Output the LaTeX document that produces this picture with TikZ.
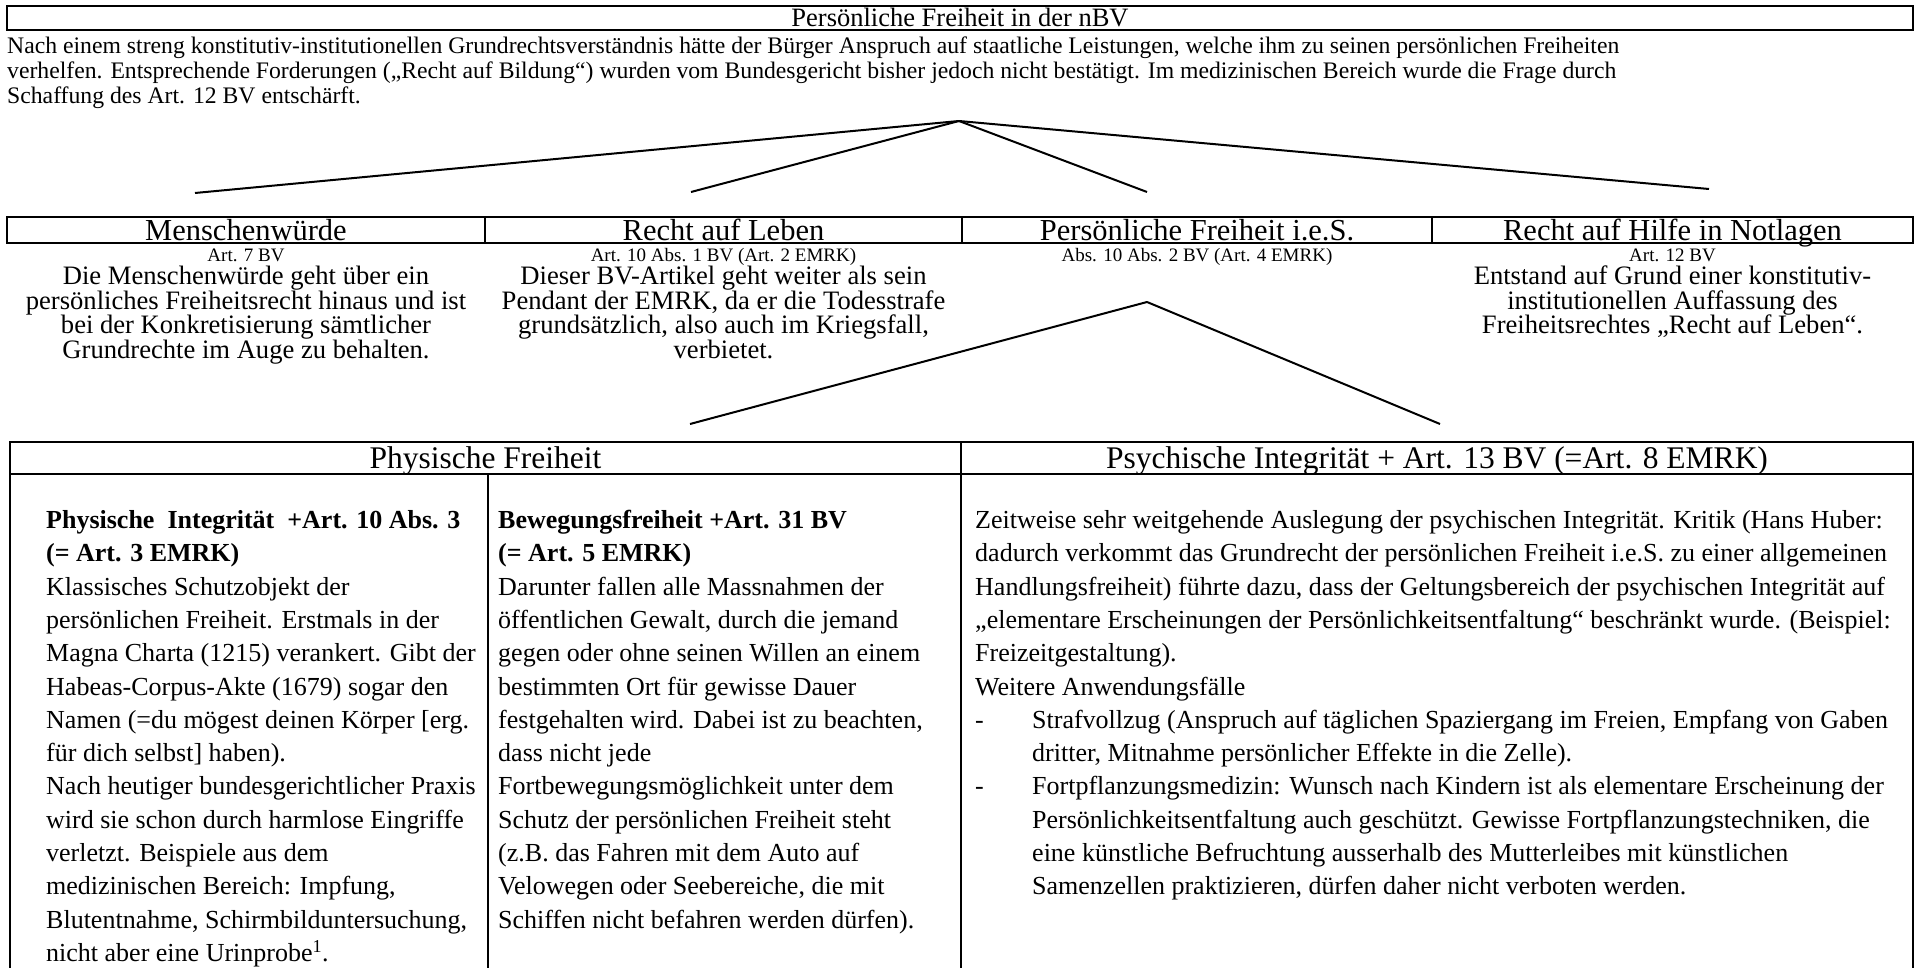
\documentclass[tikz,border=0pt]{standalone}
\usepackage{fontspec}
\setmainfont{Liberation Serif}
\newcommand\xbody{\fontsize{26}{33.3}\selectfont\lineskiplimit=-100pt}
\newcommand\xpara{\fontsize{23.7}{25}\selectfont\lineskiplimit=-100pt}
\newcommand\xrow{\fontsize{26.6}{24.4}\selectfont\lineskiplimit=-100pt}
\newcommand\xtitle{\fontsize{26.5}{30}\selectfont}
\newcommand\xhdr{\fontsize{30.5}{35}\selectfont}
\newcommand\xlow{\fontsize{31.5}{35}\selectfont}
\newcommand\xart{\fontsize{19}{22}\selectfont}
\tikzset{
  frame/.style={draw, line width=2.4pt, inner sep=0pt, outer sep=0pt},
  fanline/.style={line width=2pt},
  titletext/.style={font=\xtitle, anchor=base, inner sep=0pt},
  hdrtext/.style={font=\xhdr, anchor=base, inner sep=0pt},
  lowtext/.style={font=\xlow, anchor=base, inner sep=0pt},
  arttext/.style={font=\xart, anchor=base, inner sep=0pt},
  rowtext/.style={font=\xrow, anchor=base, align=center, inner sep=0pt},
  paratext/.style={font=\xpara, anchor=base west, align=left, inner sep=0pt},
  coltext/.style={font=\xbody, anchor=base west, align=left, inner sep=0pt},
}
\begin{document}
\begin{tikzpicture}[x=1pt,y=-1pt]
\useasboundingbox (0,0) rectangle (1914,968);
\fill[white] (0,0) rectangle (1914,968);

% title (box 6..30)
\node[frame, minimum width=1906pt, minimum height=24pt] (titlebox) at (960,18) {};
\node[titletext] (title) at (960,26.7) {Persönliche Freiheit in der nBV};

% paragraph: first baseline 54, spacing 25 -> last baseline 104
\node[paratext] (para) at (7,104) {Nach einem streng konstitutiv-institutionellen Grundrechtsverständnis hätte der Bürger Anspruch auf staatliche Leistungen, welche ihm zu seinen persönlichen Freiheiten\\
verhelfen. Entsprechende Forderungen („Recht auf Bildung“) wurden vom Bundesgericht bisher jedoch nicht bestätigt. Im medizinischen Bereich wurde die Frage durch\\
Schaffung des Art. 12 BV entschärft.};

% upper fan
\coordinate (apexA) at (959,121);
\coordinate (endA1) at (195,193);
\coordinate (endA2) at (691,192);
\coordinate (endA3) at (1147,192);
\coordinate (endA4) at (1709,189);
\draw[fanline] (apexA) -- (endA1);
\draw[fanline] (apexA) -- (endA2);
\draw[fanline] (apexA) -- (endA3);
\draw[fanline] (apexA) -- (endA4);

% row 2 boxes (217..243)
\node[frame, minimum width=478pt, minimum height=26pt] (c1) at (246,230) {};
\node[frame, minimum width=477pt, minimum height=26pt] (c2) at (723.5,230) {};
\node[frame, minimum width=470pt, minimum height=26pt] (c3) at (1197,230) {};
\node[frame, minimum width=481pt, minimum height=26pt] (c4) at (1672.5,230) {};
\node[hdrtext] (l1) at (246,240.5) {Menschenwürde};
\node[hdrtext] (l2) at (723.5,240.5) {Recht auf Leben};
\node[hdrtext] (l3) at (1197,240.5) {Persönliche Freiheit i.e.S.};
\node[hdrtext] (l4) at (1672.5,240.5) {Recht auf Hilfe in Notlagen};

\node[arttext] (a1) at (246,262) {Art. 7 BV};
\node[arttext] (a2) at (723.5,262) {Art. 10 Abs. 1 BV (Art. 2 EMRK)};
\node[arttext] (a3) at (1197,262) {Abs. 10 Abs. 2 BV (Art. 4 EMRK)};
\node[arttext] (a4) at (1672.5,262) {Art. 12 BV};

% first baseline 285, spacing 24.4
\node[rowtext] (t1) at (246,358.2) {Die Menschenwürde geht über ein\\persönliches Freiheitsrecht hinaus und ist\\bei der Konkretisierung sämtlicher\\Grundrechte im Auge zu behalten.};
\node[rowtext] (t2) at (723.5,358.2) {Dieser BV-Artikel geht weiter als sein\\Pendant der EMRK, da er die Todesstrafe\\grundsätzlich, also auch im Kriegsfall,\\verbietet.};
\node[rowtext] (t4) at (1672.5,333.8) {Entstand auf Grund einer konstitutiv-\\institutionellen Auffassung des\\Freiheitsrechtes „Recht auf Leben“.};

% lower fan
\coordinate (apexB) at (1147,302);
\coordinate (endB1) at (690,424);
\coordinate (endB2) at (1440,424);
\draw[fanline] (apexB) -- (endB1);
\draw[fanline] (apexB) -- (endB2);

% lower table: top 442, header bottom 474, dividers 488 / 961
\node[frame, minimum width=951pt, minimum height=32pt] (h1) at (485.5,458) {};
\node[frame, minimum width=952pt, minimum height=32pt] (h2) at (1437,458) {};
\node[lowtext] (hl1) at (485.5,468.5) {Physische Freiheit};
\node[lowtext] (hl2) at (1437,468.5) {Psychische Integrität + Art. 13 BV (=Art. 8 EMRK)};
\node[frame, minimum width=478pt, minimum height=530pt] (b1) at (249,739) {};
\node[frame, minimum width=473pt, minimum height=530pt] (b2) at (724.5,739) {};
\node[frame, minimum width=952pt, minimum height=530pt] (b3) at (1437,739) {};

% first baseline 528.5, spacing 33.3
\node[coltext] (colA) at (46,961.4) {\textbf{Physische\ \ Integrität\ \ +Art. 10 Abs. 3}\\
\textbf{(= Art. 3 EMRK)}\\
Klassisches Schutzobjekt der\\
persönlichen Freiheit. Erstmals in der\\
Magna Charta (1215) verankert. Gibt der\\
Habeas-Corpus-Akte (1679) sogar den\\
Namen (=du mögest deinen Körper [erg.\\
für dich selbst] haben).\\
Nach heutiger bundesgerichtlicher Praxis\\
wird sie schon durch harmlose Eingriffe\\
verletzt. Beispiele aus dem\\
medizinischen Bereich: Impfung,\\
Blutentnahme, Schirmbilduntersuchung,\\
nicht aber eine Urinprobe\textsuperscript{1}.};

\node[coltext] (colB) at (498,928.1) {\textbf{Bewegungsfreiheit +Art. 31 BV}\\
\textbf{(= Art. 5 EMRK)}\\
Darunter fallen alle Massnahmen der\\
öffentlichen Gewalt, durch die jemand\\
gegen oder ohne seinen Willen an einem\\
bestimmten Ort für gewisse Dauer\\
festgehalten wird. Dabei ist zu beachten,\\
dass nicht jede\\
Fortbewegungsmöglichkeit unter dem\\
Schutz der persönlichen Freiheit steht\\
(z.B. das Fahren mit dem Auto auf\\
Velowegen oder Seebereiche, die mit\\
Schiffen nicht befahren werden dürfen).};

\node[coltext] (colC) at (975,894.8) {Zeitweise sehr weitgehende Auslegung der psychischen Integrität. Kritik (Hans Huber:\\
dadurch verkommt das Grundrecht der persönlichen Freiheit i.e.S. zu einer allgemeinen\\
Handlungsfreiheit) führte dazu, dass der Geltungsbereich der psychischen Integrität auf\\
„elementare Erscheinungen der Persönlichkeitsentfaltung“ beschränkt wurde. (Beispiel:\\
Freizeitgestaltung).\\
Weitere Anwendungsfälle\\
\makebox[57pt][l]{-}Strafvollzug (Anspruch auf täglichen Spaziergang im Freien, Empfang von Gaben\\
\hspace*{57pt}dritter, Mitnahme persönlicher Effekte in die Zelle).\\
\makebox[57pt][l]{-}Fortpflanzungsmedizin: Wunsch nach Kindern ist als elementare Erscheinung der\\
\hspace*{57pt}Persönlichkeitsentfaltung auch geschützt. Gewisse Fortpflanzungstechniken, die\\
\hspace*{57pt}eine künstliche Befruchtung ausserhalb des Mutterleibes mit künstlichen\\
\hspace*{57pt}Samenzellen praktizieren, dürfen daher nicht verboten werden.};
\end{tikzpicture}
\end{document}
